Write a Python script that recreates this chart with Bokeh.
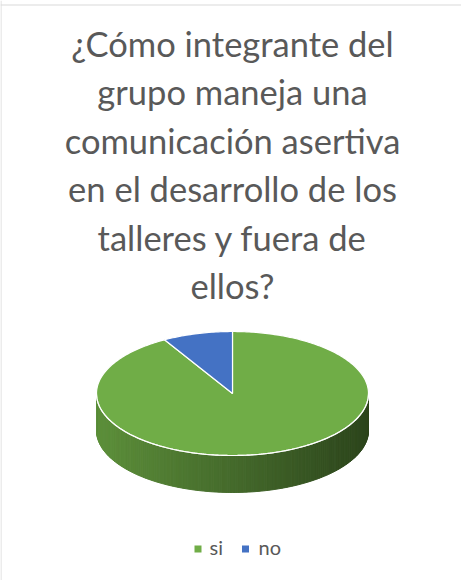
import numpy as np
from bokeh.plotting import figure
from bokeh.models import Range1d, Span
from bokeh.core.properties import value
from bokeh.embed import file_html
from bokeh.resources import INLINE

# ---- data ----
CATEGORIES = ["si", "no"]
VALUES = [11, 1]
COLORS = ["#70AD47", "#4472C4"]
TITLE_LINES = [
    "¿Cómo integrante del",
    "grupo maneja una",
    "comunicación asertiva",
    "en el desarrollo de los",
    "talleres y fuera de",
    "ellos?",
]

# ---- layout helpers (page pixel -> data) ----
W, H = 461, 580
def X(px):
    return px - 8
def Y(py):
    return 588 - py

p = figure(width=W, height=H, x_range=Range1d(0, W), y_range=Range1d(0, H),
           output_backend="svg", toolbar_location=None, min_border=0)
p.axis.visible = False
p.grid.visible = False
p.outline_line_color = None
p.background_fill_color = "white"
p.border_fill_color = "white"

# chart frame (top and left edges visible)
p.add_layout(Span(location=Y(12.5), dimension="width", line_color="#d9d9d9", line_width=1))
p.add_layout(Span(location=0.5, dimension="height", line_color="#d9d9d9", line_width=1))

# ---- title ----
TFS = 34.5
baselines = [68, 116.5, 165, 213.5, 262, 310]
p.text(x=[X(240)] * len(TITLE_LINES), y=[Y(b) + 0.5 * TFS for b in baselines], text=TITLE_LINES,
       text_align="center", text_baseline="alphabetic",
       text_font=value("Lato"), text_font_size=f"{TFS}px", text_color="#595959")

# ---- 3D pie ----
cx, cy = X(240), Y(401)
rx, ry, depth = 136, 62, 37

def hex2rgb(h):
    h = h.lstrip("#")
    return [int(h[i:i + 2], 16) for i in (0, 2, 4)]

def rgb2hex(c):
    return "#%02x%02x%02x" % tuple(int(max(0, min(255, v))) for v in c)

total = float(sum(VALUES))
fr = np.cumsum([0.0] + [v / total for v in VALUES])
starts = 2 * np.pi * fr[:-1]
ends = 2 * np.pi * fr[1:]

# side walls (front half, clockwise angle from top between pi/2 and 3pi/2)
side_xs, side_ys, side_cols = [], [], []
for s, e, col in zip(starts, ends, COLORS):
    a0, a1 = max(s, np.pi / 2), min(e, 3 * np.pi / 2)
    if a1 <= a0:
        continue
    n = max(2, int((a1 - a0) / (np.pi / 160)))
    ts = np.linspace(a0, a1, n + 1)
    base = np.array(hex2rgb(col))
    for t0, t1 in zip(ts[:-1], ts[1:]):
        x0, x1 = cx + rx * np.sin(t0), cx + rx * np.sin(t1)
        y0, y1 = cy + ry * np.cos(t0), cy + ry * np.cos(t1)
        side_xs.append([x0, x1, x1, x0])
        side_ys.append([y0, y1, y1 - depth, y0 - depth])
        xm = (x0 + x1) / 2
        f = (xm - (cx - rx)) / (2 * rx)
        fac = 0.83 - 0.43 * f
        side_cols.append(rgb2hex(base * fac))
p.patches(side_xs, side_ys, fill_color=side_cols, line_color=side_cols, line_width=1)

# top faces
top_xs, top_ys = [], []
for s, e in zip(starts, ends):
    n = max(4, int((e - s) / (np.pi / 180)))
    ts = np.linspace(s, e, n + 1)
    top_xs.append([cx] + list(cx + rx * np.sin(ts)))
    top_ys.append([cy] + list(cy + ry * np.cos(ts)))
p.patches(top_xs, top_ys, fill_color=COLORS, line_color="white", line_width=1.2)

# light edge between top face and side
te = np.linspace(np.pi / 2, 3 * np.pi / 2, 200)
p.line(cx + rx * np.sin(te), cy + ry * np.cos(te), line_color="white", line_width=1.2, line_alpha=0.9)

# ---- legend ----
LFS = 20
leg_sq_x = [205.5, 253]
leg_tx_x = [217, 266]
p.rect(x=[X(v) for v in leg_sq_x], y=[Y(556.5)] * len(CATEGORIES), width=7, height=7,
       fill_color=COLORS, line_color=None)
p.text(x=[X(v) for v in leg_tx_x], y=[Y(564) + 0.5 * LFS] * len(CATEGORIES), text=CATEGORIES,
       text_align="left", text_baseline="alphabetic",
       text_font=value("Lato"), text_font_size=f"{LFS}px", text_color="#595959")

open("out.html", "w").write(file_html(p, INLINE))
